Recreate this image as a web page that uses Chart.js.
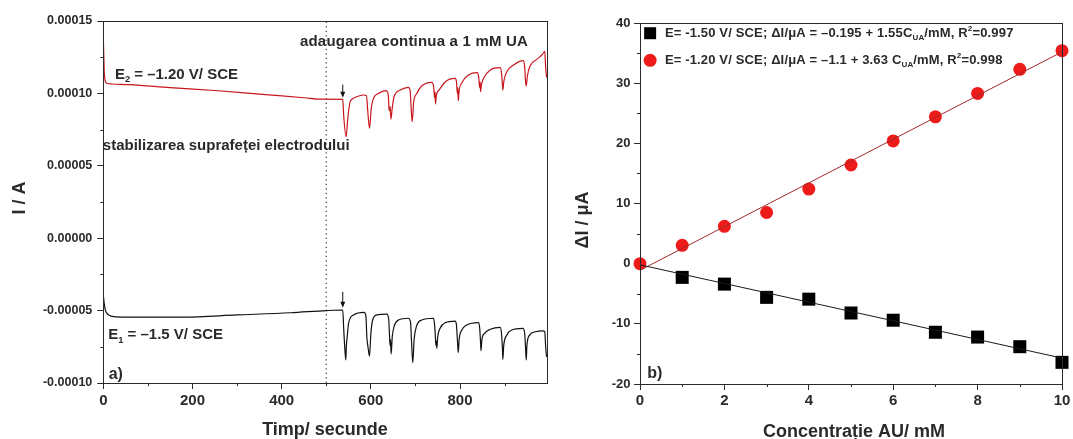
<!DOCTYPE html>
<html>
<head>
<meta charset="utf-8">
<script src="https://cdn.jsdelivr.net/npm/chart.js@4.4.1/dist/chart.umd.min.js"></script>
<style>
  html, body { margin: 0; padding: 0; background: #fff; }
  body { position: relative; width: 1073px; height: 439px; overflow: hidden; }
  .panel { position: absolute; top: 0; height: 439px; }
  #panelA { left: 0; width: 560px; }
  #panelB { left: 560px; width: 513px; }
</style>
</head>
<body>
<div class="panel" id="panelA"><canvas id="timeChart"></canvas></div>
<div class="panel" id="panelB"><canvas id="calibChart"></canvas></div>
<script>
// a) curent (µA) in timp (s) la E2 = -1.20 V si E1 = -1.5 V
const redTime = [0, 1, 2, 4, 8, 20, 60, 150, 250, 350, 450, 490, 537,
  539, 544.5, 548, 553.5, 561, 583, 590,
  593, 597, 601, 606, 617, 634, 639,
  641, 643, 645, 648, 652, 666, 684, 688,
  690, 692.6, 696, 703, 714, 737, 741,
  743, 744, 745, 747, 753, 767, 789, 792,
  794, 795, 796, 798, 804, 819, 838, 842,
  844, 845, 846, 848, 854, 868, 890, 893,
  895, 896, 898, 905, 920, 942, 945,
  947, 948.4, 951, 957, 972, 985, 990, 992, 994];
const redCurrent = [138, 128, 116, 109, 107, 106.5, 106, 104, 102, 99.5, 97, 96, 95.9,
  85, 70.1, 82, 94.3, 96.6, 98.9, 98.5,
  88, 75.9, 90, 96.6, 100, 101.9, 99,
  88, 91, 82.3, 90, 97.7, 102.3, 104.2, 102,
  92, 80.5, 94, 100, 105.1, 107.6, 104,
  97, 101, 92.7, 99, 102.3, 108.1, 110.4, 108,
  100, 104, 95, 102, 107.4, 112.7, 114.3, 111,
  104, 108, 101.2, 106, 111.1, 116.2, 117.8, 114,
  106, 102.3, 108, 115, 119.6, 122.6, 118,
  108, 105.1, 112, 118.9, 123.5, 127, 129, 118, 111];

const blackTime = [0, 2, 5, 10, 20, 40, 180, 300, 420, 500, 537,
  539, 542, 543.8, 545, 547, 550, 561, 585, 589,
  591, 594, 597, 600, 604, 613, 636, 640,
  642, 643, 644, 645.5, 648, 652, 662, 684, 689,
  691, 694, 697, 702, 714, 740.5, 743,
  745, 746, 747, 748, 750, 755, 767, 789, 792,
  794, 796, 798, 804, 815, 841.5, 844,
  846, 847, 849, 855, 868, 890, 893,
  895, 896, 898, 905, 916, 941, 945,
  947, 948.4, 950, 956, 969, 985, 990, 992, 994];
const blackCurrent = [-39, -45, -50, -52.5, -54, -54.5, -54.5, -53, -51.5, -50, -49.6,
  -62, -78, -84.1, -75, -68, -58.8, -53, -51.2, -54,
  -68, -76, -81.4, -66, -56.5, -53, -52.4, -56,
  -68, -74, -70, -80, -68, -61.1, -56.5, -55.3, -58,
  -70, -86, -70, -61.1, -56.5, -55.3, -60,
  -70, -74, -71, -76, -68, -62.3, -58.3, -57.2, -60,
  -70, -79, -70, -63.4, -60, -58.3, -62,
  -72, -77.7, -70, -65.7, -62.9, -61.6, -66,
  -76, -83.7, -74, -66.9, -63.4, -62.3, -66,
  -76, -84.1, -74, -66.9, -64.6, -64, -64.6, -75, -82];

const additionStart = 500;        // inceputul adaugarii de UA
const arrowTime = 537;
const arrowFrom = [106, -37];     // sageti: rosu, negru
const arrowTo = [97, -48];

// b) calibrare dI vs concentratie
const concentration = [0, 1, 2, 3, 4, 5, 6, 7, 8, 9, 10];
const deltaI_E120 = [0, 3.05, 6.2, 8.5, 12.4, 16.4, 20.4, 24.4, 28.3, 32.3, 35.4];
const deltaI_E150 = [null, -2.28, -3.4, -5.6, -5.9, -8.2, -9.4, -11.4, -12.2, -13.8, -16.4];
const fitIntercept = [-0.195, -1.1];   // E1 = -1.50 V, E2 = -1.20 V
const fitSlope = [-1.55, 3.63];

const FONT = '"Liberation Sans", Arial, sans-serif';
const INK = '#2a2a2a';
const RED_TRACE = '#c8161d';
const RED_DOT = '#ee1b1b';

Chart.defaults.font.family = FONT;
Chart.defaults.font.weight = 'bold';
Chart.defaults.color = INK;

function pairs(xs, ys) {
  return xs.map((x, i) => ({ x: x, y: ys[i] })).filter(p => p.y !== null);
}

// text cu indici / exponenti: parts = [[text, 'sub'|'sup'|undefined], ...]
function rich(ctx, parts, x, y, size, align, spacing) {
  const fontFor = m => 'bold ' + (m ? size * 0.62 : size) + 'px ' + FONT;
  ctx.letterSpacing = (spacing || 0) + 'px';
  const widths = parts.map(([t, m]) => { ctx.font = fontFor(m); return ctx.measureText(t).width; });
  const total = widths.reduce((a, b) => a + b, 0);
  let cx = align === 'center' ? x - total / 2 : x;
  ctx.textAlign = 'left';
  ctx.textBaseline = 'middle';
  parts.forEach(([t, m], i) => {
    ctx.font = fontFor(m);
    const dy = m === 'sub' ? size * 0.32 : m === 'sup' ? -size * 0.38 : 0;
    ctx.fillText(t, cx, y + dy);
    cx += widths[i];
  });
  ctx.letterSpacing = '0px';
}

function frameAndMinor(chart, isMajorX, isMajorY) {
  const { ctx, chartArea: a, scales: { x, y } } = chart;
  ctx.save();
  ctx.strokeStyle = INK;
  ctx.lineWidth = 1;
  ctx.beginPath();
  x.ticks.forEach(t => {
    if (isMajorX(t.value)) return;
    const px = Math.round(x.getPixelForValue(t.value)) + 0.5;
    ctx.moveTo(px, a.bottom); ctx.lineTo(px, a.bottom + 3);
  });
  y.ticks.forEach(t => {
    if (isMajorY(t.value)) return;
    const py = Math.round(y.getPixelForValue(t.value)) + 0.5;
    ctx.moveTo(a.left, py); ctx.lineTo(a.left - 3, py);
  });
  ctx.stroke();
  ctx.strokeRect(Math.round(a.left) + 0.5, Math.round(a.top) + 0.5,
    Math.round(a.right - a.left), Math.round(a.bottom - a.top));
  ctx.restore();
}

function axisTitles(chart, bottomText, bx, by, leftText, lx, ly) {
  const ctx = chart.ctx;
  ctx.save();
  ctx.fillStyle = INK;
  rich(ctx, bottomText, bx, by, 18, 'center');
  ctx.translate(lx, ly);
  ctx.rotate(-Math.PI / 2);
  rich(ctx, leftText, 0, 0, 18, 'center');
  ctx.restore();
}

function scaleOptions(min, max, step, isMajor, label, size, fit, pad) {
  return {
    type: 'linear', min: min, max: max,
    ticks: {
      autoSkip: false, maxRotation: 0,
      padding: pad, font: { size: size, weight: 'bold' }, color: INK,
      callback: v => isMajor(v) ? label(v) : ''
    },
    afterBuildTicks: s => {
      const ticks = [];
      for (let v = min; v <= max + 1e-9; v += step) ticks.push({ value: v });
      s.ticks = ticks;
    },
    grid: {
      drawOnChartArea: false, tickLength: 6, tickWidth: 1,
      tickColor: c => (c.tick && isMajor(c.tick.value)) ? INK : 'rgba(0,0,0,0)'
    },
    border: { color: INK, width: 1 },
    afterFit: fit
  };
}

// ---------- a) ----------
const majorT = v => Math.round(v) % 200 === 0;
const majorI = v => Math.round(v) % 50 === 0;

const notesA = [
  { parts: [['adaugarea continua a 1 mM UA']], t: 441, i: 135.5, spacing: 0.2 },
  { parts: [['E'], ['2', 'sub'], [' = –1.20 V/ SCE']], t: 26, i: 113 },
  { parts: [['stabilizarea suprafeței electrodului']], t: -1, i: 64 },
  { parts: [['E'], ['1', 'sub'], [' = –1.5 V/ SCE']], t: 11, i: -67 },
  { parts: [['a)']], t: 12, i: -94, size: 16 }
];

new Chart(document.getElementById('timeChart'), {
  type: 'line',
  data: {
    datasets: [
      { data: pairs(redTime, redCurrent), borderColor: RED_TRACE, borderWidth: 1.2,
        pointRadius: 0, cubicInterpolationMode: 'monotone' },
      { data: pairs(blackTime, blackCurrent), borderColor: '#111', borderWidth: 1.2,
        pointRadius: 0, cubicInterpolationMode: 'monotone' },
      { data: [{ x: additionStart, y: -100 }, { x: additionStart, y: 150 }],
        borderColor: '#444', borderWidth: 1.3, borderDash: [1.3, 3.2], pointRadius: 0 }
    ]
  },
  options: {
    responsive: true, maintainAspectRatio: false, animation: false,
    layout: { padding: { top: 21, right: 13, left: 0, bottom: 0 } },
    plugins: { legend: { display: false }, tooltip: { enabled: false } },
    scales: {
      x: scaleOptions(0, 995, 100, majorT, v => String(v), 15, s => { s.height = 56; }, 3),
      y: scaleOptions(-100, 150, 25, majorI, v => (v / 1e6).toFixed(5), 12.5, s => { s.width = 103.3; }, 5)
    }
  },
  plugins: [{
    id: 'panelA',
    afterDraw(chart) {
      frameAndMinor(chart, majorT, majorI);
      const { ctx, scales: { x, y } } = chart;
      ctx.save();
      ctx.strokeStyle = '#111';
      ctx.fillStyle = '#111';
      ctx.lineWidth = 1;
      arrowFrom.forEach((from, k) => {
        const px = x.getPixelForValue(arrowTime);
        const y0 = y.getPixelForValue(from), y1 = y.getPixelForValue(arrowTo[k]);
        ctx.beginPath();
        ctx.moveTo(px, y0); ctx.lineTo(px, y1 - 4);
        ctx.stroke();
        ctx.beginPath();
        ctx.moveTo(px - 2.5, y1 - 6); ctx.lineTo(px + 2.5, y1 - 6); ctx.lineTo(px, y1);
        ctx.closePath(); ctx.fill();
      });
      ctx.fillStyle = INK;
      notesA.forEach(n => rich(ctx, n.parts, x.getPixelForValue(n.t), y.getPixelForValue(n.i), n.size || 15, 'left', n.spacing));
      ctx.restore();
      axisTitles(chart, [['Timp/ secunde']], 325, 430, [['I / A']], 20, 198);
    }
  }]
});

// ---------- b) ----------
function fitLine(k) {
  const xs = [concentration[0], concentration[concentration.length - 1]];
  return xs.map(c => ({ x: c, y: fitIntercept[k] + fitSlope[k] * c }));
}
const majorC = v => Math.round(v) % 2 === 0;
const majorD = v => Math.round(v) % 10 === 0;

const legendB = [
  { color: '#000', shape: 'rect', y: 38.3,
    parts: [['E= -1.50 V/ SCE; ΔI/μA = –0.195 + 1.55C'], ['UA', 'sub'], ['/mM, R'], ['2', 'sup'], ['=0.997']] },
  { color: RED_DOT, shape: 'circle', y: 33.8,
    parts: [['E= -1.20 V/ SCE; ΔI/μA = –1.1 + 3.63 C'], ['UA', 'sub'], ['/mM, R'], ['2', 'sup'], ['=0.998']] }
];

new Chart(document.getElementById('calibChart'), {
  type: 'scatter',
  data: {
    datasets: [
      { type: 'line', data: fitLine(0), borderColor: '#1a1a1a', borderWidth: 1, pointRadius: 0, clip: false },
      { type: 'line', data: fitLine(1), borderColor: '#a2292b', borderWidth: 1, pointRadius: 0, clip: false },
      { data: pairs(concentration, deltaI_E150), pointStyle: 'rect', pointRadius: 9.2,
        backgroundColor: '#000', borderColor: '#000', borderWidth: 0, clip: false },
      { data: pairs(concentration, deltaI_E120), pointStyle: 'circle', pointRadius: 6.5,
        backgroundColor: RED_DOT, borderColor: RED_DOT, borderWidth: 0, clip: false }
    ]
  },
  options: {
    responsive: true, maintainAspectRatio: false, animation: false,
    layout: { padding: { top: 23, right: 11, left: 0, bottom: 0 } },
    plugins: { legend: { display: false }, tooltip: { enabled: false } },
    scales: {
      x: scaleOptions(0, 10, 1, majorC, v => String(v), 15, s => { s.height = 55; }, 2),
      y: scaleOptions(-20, 40, 5, majorD, v => String(v), 13, s => { s.width = 80; }, 3.5)
    }
  },
  plugins: [{
    id: 'panelB',
    afterDraw(chart) {
      frameAndMinor(chart, majorC, majorD);
      const { ctx, scales: { x, y } } = chart;
      ctx.save();
      legendB.forEach(item => {
        const mx = x.getPixelForValue(0.24), my = y.getPixelForValue(item.y);
        ctx.fillStyle = item.color;
        ctx.beginPath();
        if (item.shape === 'rect') ctx.rect(mx - 6, my - 6, 12, 12);
        else ctx.arc(mx, my, 6.5, 0, Math.PI * 2);
        ctx.fill();
        ctx.fillStyle = INK;
        rich(ctx, item.parts, x.getPixelForValue(0.59), my, 13, 'left', 0.15);
      });
      ctx.fillStyle = INK;
      rich(ctx, [['b)']], x.getPixelForValue(0.17), y.getPixelForValue(-18.2), 16, 'left');
      ctx.restore();
      axisTitles(chart, [['Concentrație AU/ mM']], 294, 432, [['ΔI / μA']], 23, 220);
    }
  }]
});
</script>
</body>
</html>
